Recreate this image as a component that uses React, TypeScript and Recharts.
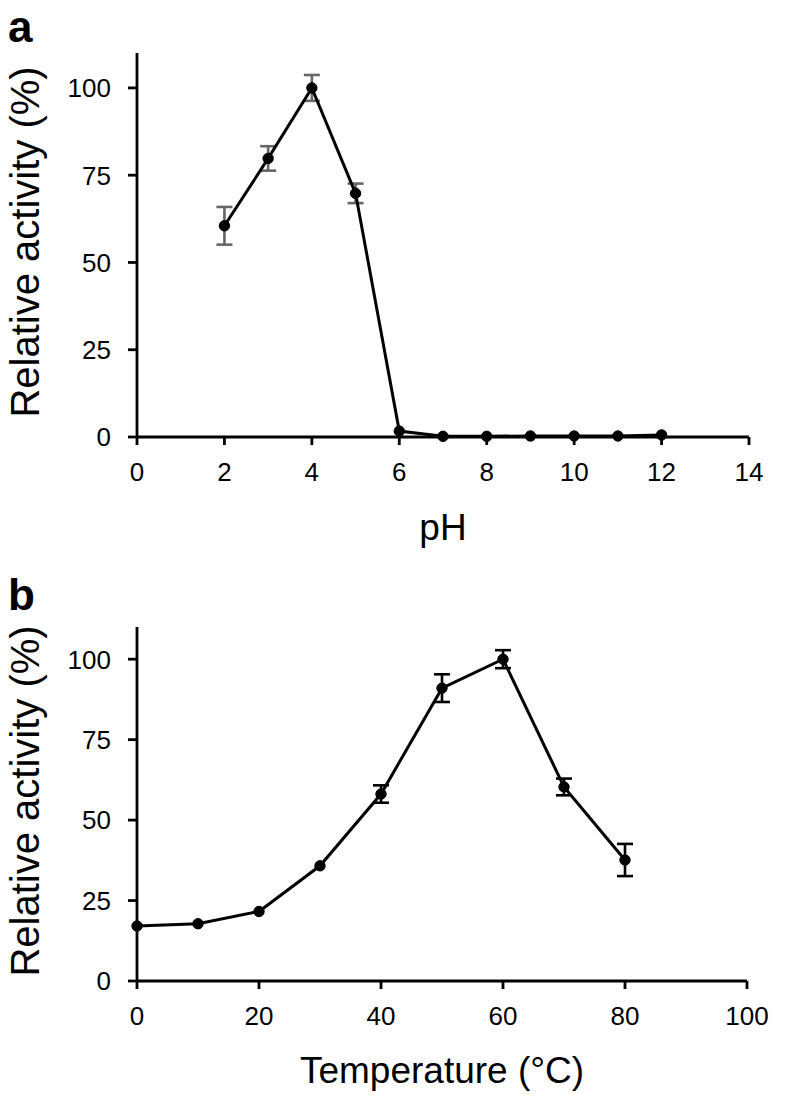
import React from "react";
import { LineChart, Line, XAxis, YAxis, ErrorBar, Label } from "recharts";

// Panel a: pH profile
const phValues = [2, 3, 4, 5, 6, 7, 8, 9, 10, 11, 12];
const phActivity = [60.5, 79.8, 100, 69.8, 1.7, 0.2, 0.2, 0.3, 0.3, 0.3, 0.6];
const phError = [5.4, 3.5, 3.7, 2.8, 0, 0, 0, 0, 0, 0, 0];
const phTicks = [0, 2, 4, 6, 8, 10, 12, 14];

// Panel b: temperature profile
const tempValues = [0, 10, 20, 30, 40, 50, 60, 70, 80];
const tempActivity = [17.1, 17.8, 21.6, 35.8, 58.1, 91.0, 100, 60.3, 37.6];
const tempError = [0, 0, 0, 0, 2.7, 4.3, 2.8, 2.6, 5.0];
const tempTicks = [0, 20, 40, 60, 80, 100];

const activityTicks = [0, 25, 50, 75, 100];

const phData = phValues.map((x, i) => ({ x, y: phActivity[i], err: phError[i] }));
const tempData = tempValues.map((x, i) => ({ x, y: tempActivity[i], err: tempError[i] }));

const FONT = "'Liberation Sans', Arial, Helvetica, sans-serif";
const W = 796;
const H = 548;
const TICK_FS = 26;

function XTick(props: any) {
  const { x, y, payload } = props;
  return (
    <text x={x} y={y} dy={TICK_FS * 0.72} textAnchor="middle" fontSize={TICK_FS} fontFamily={FONT} fill="#000">
      {payload.value}
    </text>
  );
}

function YTick(props: any) {
  const { x, y, payload } = props;
  return (
    <text x={x} y={y} dy={TICK_FS * 0.36} textAnchor="end" fontSize={TICK_FS} fontFamily={FONT} fill="#000">
      {payload.value}
    </text>
  );
}

function YTitle(props: any) {
  const vb = props.viewBox || {};
  const cy = vb.y + vb.height / 2 - 3;
  const cx = 25;
  return (
    <text
      x={cx}
      y={cy}
      transform={`rotate(-90 ${cx} ${cy})`}
      textAnchor="middle"
      dominantBaseline="central"
      fontSize={40}
      fontFamily={FONT}
      fill="#000"
    >
      Relative activity (%)
    </text>
  );
}

function PanelLetter(letter: string, y: number) {
  return function L() {
    return (
      <text x={8} y={y} fontSize={44} fontWeight="bold" fontFamily={FONT} fill="#000">
        {letter}
      </text>
    );
  };
}

function XTitle(text: string, y: number) {
  return function T(props: any) {
    const vb = props.viewBox || {};
    const cx = vb.x + vb.width / 2;
    return (
      <text
        x={cx}
        y={y}
        textAnchor="middle"
        dominantBaseline="central"
        fontSize={37}
        fontFamily={FONT}
        fill="#000"
      >
        {text}
      </text>
    );
  };
}

function Panel(props: {
  data: any[];
  xTicks: number[];
  xMax: number;
  margin: any;
  letter: string;
  letterY: number;
  xTitle: string;
  xTitleY: number;
  errColor: string;
}) {
  const { data, xTicks, xMax, margin, letter, letterY, xTitle, xTitleY, errColor } = props;
  return (
    <LineChart width={W} height={H} data={data} margin={margin}>
      <XAxis
        type="number"
        dataKey="x"
        domain={[0, xMax]}
        ticks={xTicks}
        interval={0}
        height={60}
        tick={<XTick />}
        tickSize={8}
        tickMargin={17}
        axisLine={{ stroke: "#000", strokeWidth: 2.8 }}
        tickLine={{ stroke: "#000", strokeWidth: 2.8 }}
      >
        <Label content={XTitle(xTitle, xTitleY)} />
      </XAxis>
      <YAxis
        type="number"
        domain={[0, 110]}
        ticks={activityTicks}
        interval={0}
        width={100}
        tick={<YTick />}
        tickSize={9}
        tickMargin={17}
        axisLine={{ stroke: "#000", strokeWidth: 2.8 }}
        tickLine={{ stroke: "#000", strokeWidth: 2.8 }}
      >
        <Label content={YTitle} />
        <Label content={PanelLetter(letter, letterY)} />
      </YAxis>
      <Line
        type="linear"
        dataKey="y"
        stroke="#000"
        strokeWidth={3}
        dot={{ r: 5.2, fill: "#000", stroke: "#000", strokeWidth: 1 }}
        isAnimationActive={false}
      >
        <ErrorBar dataKey="err" width={8} stroke={errColor} strokeWidth={2.6} direction="y" />
      </Line>
    </LineChart>
  );
}

export default function App() {
  return (
    <div style={{ position: "absolute", left: 0, top: 0, width: W, height: 1096, background: "#fff" }}>
      <div style={{ position: "absolute", left: 0, top: 0 }}>
        <Panel
          data={phData}
          xTicks={phTicks}
          xMax={14}
          margin={{ top: 53, right: 47, bottom: 51, left: 37 }}
          letter="a"
          letterY={42}
          xTitle="pH"
          xTitleY={527}
          errColor="#666666"
        />
      </div>
      <div style={{ position: "absolute", left: 0, top: H }}>
        <Panel
          data={tempData}
          xTicks={tempTicks}
          xMax={100}
          margin={{ top: 79, right: 49, bottom: 55, left: 37 }}
          letter="b"
          letterY={62}
          xTitle="Temperature (°C)"
          xTitleY={522}
          errColor="#000000"
        />
      </div>
    </div>
  );
}
